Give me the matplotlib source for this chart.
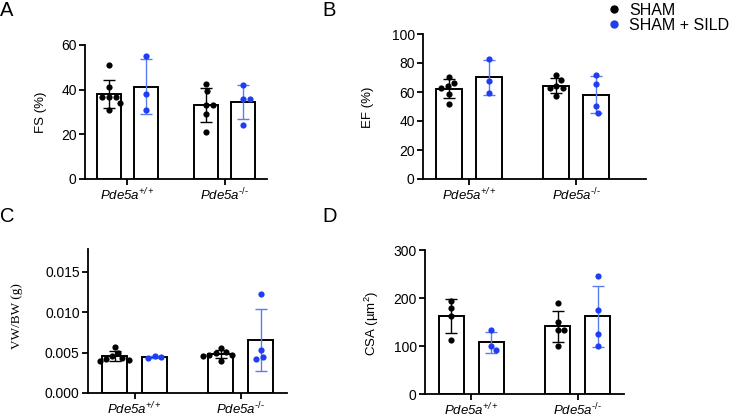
import numpy as np
import matplotlib
matplotlib.use("Agg")
import matplotlib.pyplot as plt
from matplotlib.lines import Line2D

plt.rcParams['font.family'] = ['Liberation Sans', 'DejaVu Sans']
plt.rcParams['mathtext.fontset'] = 'custom'
plt.rcParams['mathtext.rm'] = 'Liberation Sans'
plt.rcParams['mathtext.it'] = 'Liberation Sans:italic'
plt.rcParams['mathtext.sf'] = 'Liberation Sans:italic'
plt.rcParams['mathtext.bf'] = 'Liberation Sans:bold'

# ---------------- data ----------------
genotypes = [r'$\mathsf{Pde5a}^{\mathsf{+/+}}$', r'$\mathsf{Pde5a}^{\mathsf{\text{-/-}}}$']
series_names = ['SHAM', 'SHAM + SILD']

fs_sham_wt = [51, 41, 36.5, 36.5, 36.5, 34, 31]
fs_sild_wt = [55, 38, 31]
fs_sham_ko = [42.5, 39.5, 33, 33, 29, 21]
fs_sild_ko = [42, 36, 36, 24]

ef_sham_wt = [70, 66.5, 64, 63, 58.5, 51.5]
ef_sild_wt = [83, 67.5, 59.5]
ef_sham_ko = [71.5, 68, 64, 63, 63, 57]
ef_sild_ko = [72, 65.5, 50, 45.5]

vw_sham_wt = [0.0057, 0.0050, 0.0046, 0.0043, 0.0042, 0.0041, 0.0040]
vw_sild_wt = [0.0046, 0.0045, 0.0043]
vw_sham_ko = [0.0056, 0.0051, 0.0050, 0.0047, 0.0047, 0.0046, 0.0040]
vw_sild_ko = [0.0122, 0.0053, 0.0045, 0.0042]

csa_sham_wt = [194, 179, 162, 112]
csa_sild_wt = [133, 100, 91]
csa_sham_ko = [189, 151, 133, 133, 101]
csa_sild_ko = [246, 174, 125, 101]

W, H = 733, 418
fig = plt.figure(figsize=(W / 100, H / 100), dpi=100)

BLACK = '#000000'
BLUE = '#1f3df2'
BLUE_ERR = '#5b7bf0'


def add_axes_px(left, right, top, bottom):
    return fig.add_axes([left / W, 1 - bottom / H, (right - left) / W, (bottom - top) / H])


def swarm_offsets(ax, center, values, d=6.8):
    tr = ax.transData
    pts = tr.transform(np.column_stack([np.full(len(values), center), values]))
    ys = pts[:, 1]
    placed = []
    offs = []
    for y in ys:
        cands = [0.0]
        for (px, py) in placed:
            dy = abs(y - py)
            if dy < d:
                dx = np.sqrt(d * d - dy * dy)
                cands += [px + dx, px - dx]
        cands = sorted(cands, key=lambda c: (round(abs(c), 3), -c))
        chosen = cands[-1]
        for c in cands:
            ok = all((c - px) ** 2 + (y - py) ** 2 >= d * d - 1e-6 for (px, py) in placed)
            if ok:
                chosen = c
                break
        placed.append((chosen, y))
        offs.append(chosen)
    p0 = tr.transform([[0, 0]])[0, 0]
    p1 = tr.transform([[1, 0]])[0, 0]
    scale = p1 - p0
    return center + np.array(offs) / scale


def panel(ax, groups, ylim, yticks, yticklabels, ylabel, xlim, off, width,
          ylabel_font=None):
    ax.set_xlim(*xlim)
    ax.set_ylim(*ylim)
    for gi, (sham, sild) in enumerate(groups):
        for si, (vals, col, ecol) in enumerate([(sham, BLACK, BLACK), (sild, BLUE, BLUE_ERR)]):
            x = gi + (-off if si == 0 else off)
            v = np.array(vals, dtype=float)
            m = v.mean()
            sd = v.std(ddof=1)
            ax.bar(x, m, width=width, color='white', edgecolor='black', linewidth=1.4, zorder=1)
            ax.errorbar(x, m, yerr=sd, color=ecol, elinewidth=1.0, capsize=4.2,
                        capthick=1.0, zorder=2, fmt='none')
            xs = swarm_offsets(ax, x, v)
            ax.scatter(xs, v, s=20, color=col, zorder=3, linewidths=0)
    ax.spines['top'].set_visible(False)
    ax.spines['right'].set_visible(False)
    ax.spines['left'].set_linewidth(1.3)
    ax.spines['bottom'].set_linewidth(1.3)
    ax.set_xticks([0, 1])
    ax.set_xticklabels(genotypes, fontsize=9.5)
    ax.set_yticks(yticks)
    ax.set_yticklabels(yticklabels, fontsize=10)
    ax.tick_params(axis='both', direction='out', length=4, width=1.3, pad=2)
    ax.tick_params(axis='x', pad=1.5)
    kw = {}
    if ylabel_font:
        kw['fontfamily'] = ylabel_font
    ax.set_ylabel(ylabel, fontsize=9.5, **kw)


axA = add_axes_px(85, 267, 45, 179)
panel(axA, [(fs_sham_wt, fs_sild_wt), (fs_sham_ko, fs_sild_ko)],
      (0, 60), [0, 20, 40, 60], ['0', '20', '40', '60'], 'FS (%)',
      (-0.438, 1.438), 0.19, 0.247)
axA.yaxis.set_label_coords(47 / W, 1 - 112 / H, transform=fig.transFigure)

axB = add_axes_px(423, 646, 34, 179)
panel(axB, [(ef_sham_wt, ef_sild_wt), (ef_sham_ko, ef_sild_ko)],
      (0, 100), [0, 20, 40, 60, 80, 100], ['0', '20', '40', '60', '80', '100'], 'EF (%)',
      (-0.432, 1.65), 0.187, 0.243)
axB.yaxis.set_label_coords(374 / W, 1 - 107 / H, transform=fig.transFigure)

axC = add_axes_px(88, 287, 249, 393)
panel(axC, [(vw_sham_wt, vw_sild_wt), (vw_sham_ko, vw_sild_ko)],
      (0, 0.0178), [0, 0.005, 0.010, 0.015], ['0.000', '0.005', '0.010', '0.015'], 'VW/BW (g)',
      (-0.44, 1.438), 0.189, 0.242, ylabel_font=['Liberation Serif', 'DejaVu Serif'])
axC.yaxis.set_label_coords(23 / W, 1 - 316 / H, transform=fig.transFigure)

axD = add_axes_px(425, 624, 250, 394)
panel(axD, [(csa_sham_wt, csa_sild_wt), (csa_sham_ko, csa_sild_ko)],
      (0, 300), [0, 100, 200, 300], ['0', '100', '200', '300'], 'CSA (µm$^2$)',
      (-0.433, 1.436), 0.1876, 0.234)
axD.yaxis.set_label_coords(381 / W, 1 - 323 / H, transform=fig.transFigure)

for lab, x, y in [('A', 0, 16), ('B', 322, 16), ('C', 0, 222), ('D', 322, 222)]:
    fig.text(x / W, 1 - y / H, lab, fontsize=14.5, va='baseline', ha='left')

handles = [Line2D([], [], marker='o', ls='', color=BLACK, markersize=5),
           Line2D([], [], marker='o', ls='', color=BLUE, markersize=5)]
fig.legend(handles, series_names, loc='upper left', bbox_to_anchor=(606 / W, 1 - 3 / H),
           frameon=False, fontsize=11.5, handlelength=1.0, handletextpad=0.45,
           labelspacing=0.0, borderpad=0, borderaxespad=0)

fig.savefig('out.png', dpi=100)
